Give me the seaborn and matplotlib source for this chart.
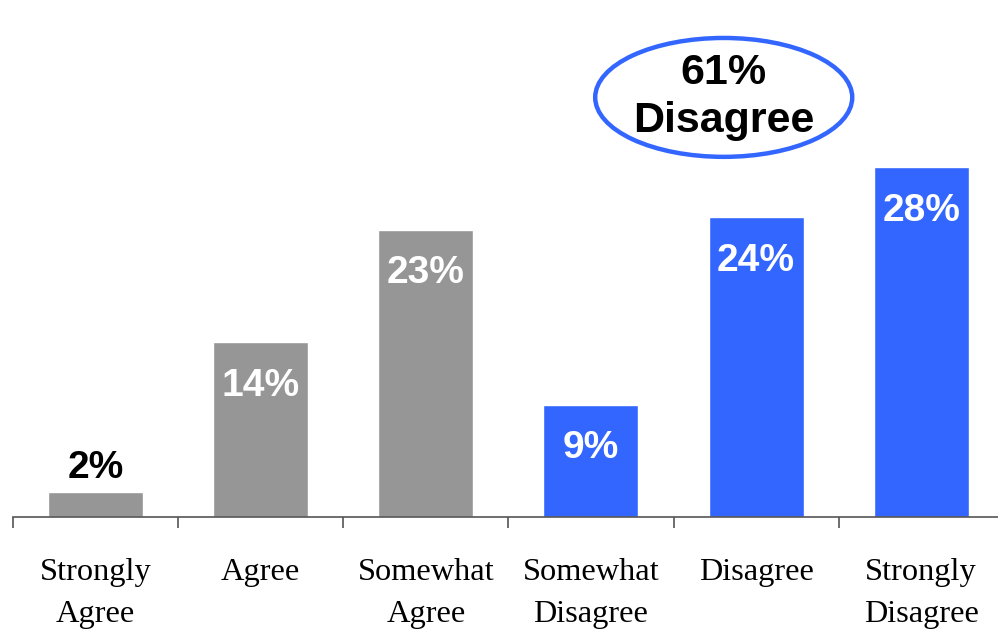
import matplotlib
matplotlib.use("Agg")
import matplotlib.pyplot as plt
from matplotlib.patches import Ellipse
import seaborn as sns
import pandas as pd

categories = ["Strongly\nAgree", "Agree", "Somewhat\nAgree", "Somewhat\nDisagree", "Disagree", "Strongly\nDisagree"]
values = [2, 14, 23, 9, 24, 28]
labels = ["2%", "14%", "23%", "9%", "24%", "28%"]
bar_colors = ["#969696", "#969696", "#969696", "#3366FF", "#3366FF", "#3366FF"]
callout_lines = ["61%", "Disagree"]

sns.set_theme(style="white")
plt.rcParams["font.family"] = ["Liberation Sans", "DejaVu Sans"]

df = pd.DataFrame({"cat": categories, "val": values})

fig = plt.figure(figsize=(9.98, 6.30), dpi=100)
ax = fig.add_axes([13/998, 113/630, (998-13)/998, 517/630])

sns.barplot(data=df, x="cat", y="val", hue="cat", palette=bar_colors,
            order=categories, hue_order=categories, width=0.575,
            legend=False, ax=ax, saturation=1)

ax.set_xlabel("")
ax.set_ylabel("")
ax.set_yticks([])
for s in ["top", "right", "left"]:
    ax.spines[s].set_visible(False)
ax.spines["bottom"].set_color("#555555")
ax.spines["bottom"].set_linewidth(1.2)

ax.set_xticks(range(len(categories)))
ax.set_xticklabels(categories, fontfamily="Liberation Serif", fontsize=23.3,
                   linespacing=1.6, color="black")
ax.tick_params(axis="x", which="major", length=0, pad=29.5, bottom=True)
ax.set_xticks([i - 0.5 for i in range(len(categories) + 1)], minor=True)
ax.tick_params(axis="x", which="minor", length=8, width=1.2, color="#555555",
               direction="out", bottom=True)

ax.set_xlim(-0.5, 5.465)
ax.set_ylim(0, 41.4)

for i, (v, lab) in enumerate(zip(values, labels)):
    if v < 5:
        ax.text(i, v + 1.9, lab, ha="center", va="center", fontsize=28,
                fontweight="bold", color="black")
    else:
        ax.text(i, v - 3.5, lab, ha="center", va="center", fontsize=28,
                fontweight="bold", color="white")

# callout ellipse
ell = Ellipse((3.804, 33.6), width=257/165.1, height=119/12.5, fill=False,
              edgecolor="#3366FF", linewidth=3.2, clip_on=False)
ax.add_patch(ell)
ax.text(3.804, 35.55, callout_lines[0], ha="center", va="center", fontsize=31,
        fontweight="bold", color="black")
ax.text(3.804, 31.7, callout_lines[1], ha="center", va="center", fontsize=31,
        fontweight="bold", color="black")

fig.savefig("out.png", dpi=100)
